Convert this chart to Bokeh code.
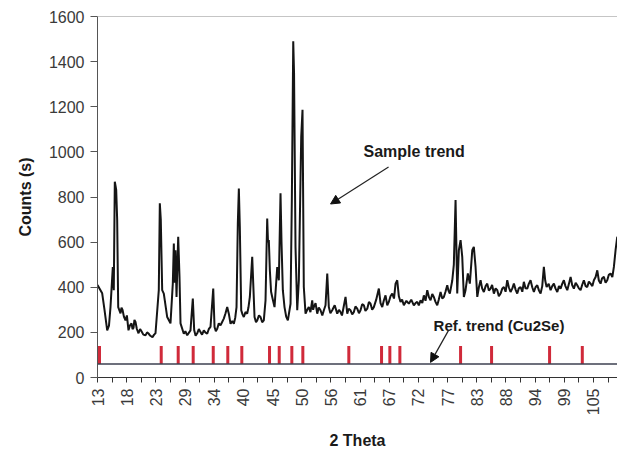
import math
import numpy as np
from bokeh.plotting import figure
from bokeh.models import Range1d, FixedTicker, Arrow, NormalHead, Span
from bokeh.core.properties import value
from bokeh.embed import file_html
from bokeh.resources import INLINE

# Measured XRD pattern of the sample (2-theta in degrees, counts)
two_theta = [
    13.00, 13.87, 14.30, 14.80, 15.13, 15.41, 15.84, 16.02, 16.21, 16.34,
    16.47, 16.65, 16.84, 17.27, 17.45, 17.64, 17.90, 18.19, 18.45, 18.75,
    19.00, 19.31, 19.50, 19.68, 19.85, 20.05, 20.30, 20.61, 20.90, 21.16,
    21.50, 21.91, 22.20, 22.46, 22.80, 23.20, 23.50, 23.76, 24.37, 24.56,
    24.74, 25.00, 25.30, 25.93, 26.54, 26.97, 27.16, 27.29, 27.47, 27.66,
    27.97, 28.21, 28.40, 29.01, 29.30, 29.64, 30.25, 30.68, 30.94, 31.20,
    31.50, 31.80, 32.11, 32.40, 32.72, 33.00, 33.35, 33.65, 33.96, 34.47,
    34.71, 34.95, 35.21, 35.50, 35.82, 36.10, 36.43, 36.75, 37.06, 37.36,
    37.68, 38.00, 38.29, 38.55, 38.79, 39.03, 39.22, 39.40, 39.66, 39.90,
    40.14, 40.45, 40.77, 41.00, 41.26, 41.70, 41.89, 42.13, 42.40, 42.63,
    42.95, 43.24, 43.55, 43.85, 44.17, 44.48, 44.63, 44.78, 44.97, 45.20,
    45.41, 45.84, 46.34, 46.64, 46.95, 47.14, 47.38, 47.69, 48.00, 48.31,
    48.81, 49.05, 49.31, 49.46, 49.73, 50.05, 50.35, 50.79, 51.03, 51.27,
    51.59, 51.90, 52.20, 52.50, 52.83, 53.00, 53.13, 53.45, 53.76, 54.05,
    54.37, 54.70, 54.99, 55.30, 55.62, 55.91, 56.20, 56.54, 57.00, 57.47,
    57.80, 58.08, 58.35, 58.64, 59.01, 59.33, 59.60, 59.94, 60.25, 60.55,
    60.85, 61.18, 61.50, 61.79, 62.10, 62.41, 62.70, 63.04, 63.35, 63.65,
    63.95, 64.26, 64.70, 65.19, 65.50, 65.82, 66.10, 66.43, 66.75, 67.04,
    67.35, 67.68, 68.00, 68.29, 68.60, 68.90, 69.21, 69.50, 69.83, 70.30,
    70.75, 71.20, 71.68, 72.00, 72.31, 72.60, 72.93, 73.25, 73.54, 73.85,
    74.17, 74.50, 74.78, 75.10, 75.39, 75.70, 76.02, 76.30, 76.64, 76.95,
    77.25, 77.55, 77.88, 78.10, 78.36, 78.81, 79.10, 79.42, 79.73, 80.03,
    80.35, 80.66, 80.96, 81.27, 81.70, 82.07, 82.52, 82.81, 83.13, 83.45,
    83.75, 84.06, 84.35, 84.67, 85.00, 85.30, 85.60, 85.91, 86.20, 86.53,
    86.85, 87.16, 87.45, 87.77, 88.10, 88.38, 88.70, 89.01, 89.30, 89.62,
    89.95, 90.24, 90.55, 90.86, 91.15, 91.48, 91.80, 92.09, 92.40, 92.72,
    93.00, 93.33, 93.65, 93.95, 94.25, 94.58, 94.90, 95.19, 95.50, 95.80,
    96.05, 96.31, 96.70, 97.05, 97.35, 97.66, 97.95, 98.29, 98.60, 98.90,
    99.20, 99.51, 99.80, 100.14, 100.45, 100.76, 101.05, 101.37, 101.70, 102.00,
    102.30, 102.61, 102.90, 103.22, 103.55, 103.85, 104.15, 104.46, 104.80, 105.08,
    105.40, 105.71, 106.00, 106.32, 106.60, 106.93, 107.25, 107.56, 107.85, 108.18,
    108.50, 108.79, 109.10, 109.42,
]
counts = [
    410, 373, 300, 209, 230, 312, 490, 387, 868, 850,
    831, 698, 312, 284, 310, 300, 270, 253, 275, 209,
    230, 240, 215, 220, 255, 246, 215, 196, 215, 205,
    190, 187, 200, 195, 185, 179, 190, 196, 387, 772,
    700, 387, 372, 268, 240, 416, 594, 420, 564, 357,
    624, 446, 240, 194, 205, 187, 209, 350, 209, 185,
    196, 215, 201, 190, 209, 200, 194, 215, 224, 394,
    224, 205, 216, 240, 231, 245, 261, 285, 312, 283,
    238, 250, 238, 265, 312, 683, 838, 668, 298, 280,
    268, 290, 283, 310, 357, 535, 416, 268, 245, 253,
    275, 268, 245, 253, 342, 705, 600, 609, 476, 380,
    357, 312, 490, 431, 816, 594, 387, 312, 270, 253,
    327, 787, 1490, 1350, 579, 298, 431, 1068, 1187, 401,
    283, 300, 312, 290, 342, 300, 312, 330, 283, 310,
    298, 275, 298, 320, 461, 312, 285, 298, 320, 283,
    300, 290, 275, 310, 357, 283, 305, 298, 280, 290,
    315, 305, 285, 298, 325, 320, 295, 305, 335, 327,
    300, 312, 345, 394, 330, 312, 340, 364, 320, 335,
    360, 372, 350, 416, 431, 360, 335, 345, 320, 340,
    327, 345, 320, 330, 335, 320, 342, 330, 364, 340,
    387, 355, 342, 370, 357, 335, 320, 345, 379, 350,
    357, 380, 409, 385, 372, 430, 500, 787, 372, 564,
    609, 535, 357, 387, 461, 416, 564, 579, 490, 357,
    400, 431, 395, 379, 405, 416, 385, 394, 410, 372,
    395, 387, 360, 372, 395, 401, 380, 431, 400, 379,
    395, 416, 390, 372, 395, 401, 380, 424, 395, 394,
    415, 431, 400, 379, 400, 409, 385, 372, 405, 490,
    430, 401, 415, 387, 405, 416, 395, 379, 405, 394,
    415, 431, 405, 387, 415, 446, 410, 394, 420, 409,
    395, 387, 410, 431, 405, 401, 425, 416, 405, 431,
    445, 475, 430, 416, 440, 446, 420, 431, 455, 461,
    445, 490, 564, 624,
]

# Reference pattern (Cu2Se) stick positions
ref_two_theta = [13.37, 24.82, 27.97, 30.75, 34.47, 37.17, 39.77, 44.91, 46.71,
                 49.05, 51.09, 59.62, 65.69, 67.23, 69.09, 80.35, 86.10, 96.86, 102.93]
ref_top = [140] * len(ref_two_theta)
ref_baseline = 60

# Axis ticks
x_tick_labels = [13, 18, 23, 29, 34, 40, 45, 50, 56, 61, 67, 72, 77, 83, 88, 94, 99, 105]
y_ticks = [0, 200, 400, 600, 800, 1000, 1200, 1400, 1600]

x_ticks = [round(v, 4) for v in np.linspace(x_tick_labels[0], x_tick_labels[-1], len(x_tick_labels))]
step = x_ticks[1] - x_ticks[0]
x_minor = [round(v + step / 2, 4) for v in x_ticks]

FONT = "Liberation Sans"

p = figure(width=617, height=454,
           x_range=Range1d(13, 109.46), y_range=Range1d(0, 1600),
           output_backend="svg", toolbar_location=None,
           min_border_left=97, min_border_right=0,
           min_border_top=16, min_border_bottom=77)
p.grid.visible = False
p.outline_line_color = None
p.background_fill_color = "white"
p.border_fill_color = "white"

# top border of the plot area
p.add_layout(Span(location=y_ticks[-1], dimension="width",
                  line_color="#8c8c8c", line_width=1.2))

# reference baseline and sticks
p.add_layout(Span(location=ref_baseline, dimension="width",
                  line_color="#3c4050", line_width=1.6))
p.segment(x0=ref_two_theta, y0=ref_baseline, x1=ref_two_theta, y1=ref_top,
          line_color="#d02a3a", line_width=3)

# sample pattern
p.line(two_theta, counts, line_color="#151515", line_width=2)

# x axis
xa = p.xaxis[0]
xa.ticker = FixedTicker(ticks=x_ticks, minor_ticks=x_minor)
xa.major_label_overrides = {t: str(l) for t, l in zip(x_ticks, x_tick_labels)}
xa.major_label_orientation = math.pi / 2
xa.axis_label = "2 Theta"
xa.axis_label_text_font = FONT
xa.axis_label_text_font_style = "bold"
xa.axis_label_text_font_size = "16px"
xa.axis_label_text_color = "#1a1a1a"
xa.axis_label_standoff = 14
xa.major_label_text_font = FONT
xa.major_label_text_font_size = "16px"
xa.major_label_text_color = "#3a3a3a"
xa.major_label_standoff = 6
xa.axis_line_color = "#333333"
xa.major_tick_line_color = "#333333"
xa.minor_tick_line_color = "#333333"
xa.major_tick_out = 5
xa.major_tick_in = 0
xa.minor_tick_out = 5
xa.minor_tick_in = 0

# y axis
ya = p.yaxis[0]
ya.ticker = FixedTicker(ticks=y_ticks)
ya.axis_label = "Counts (s)"
ya.axis_label_text_font = FONT
ya.axis_label_text_font_style = "bold"
ya.axis_label_text_font_size = "16px"
ya.axis_label_text_color = "#1a1a1a"
ya.axis_label_standoff = 12
ya.major_label_text_font = FONT
ya.major_label_text_font_size = "16px"
ya.major_label_text_color = "#3a3a3a"
ya.major_label_standoff = 6
ya.axis_line_color = "#555555"
ya.major_tick_line_color = "#555555"
ya.minor_tick_line_color = None
ya.major_tick_out = 7
ya.major_tick_in = 0

# annotations
p.text(x=[62.35], y=[1000], text=["Sample trend"], text_font=value(FONT),
       text_font_style="bold", text_font_size="16px", text_color="#1a1a1a",
       text_align="left", text_baseline="middle")
p.add_layout(Arrow(end=NormalHead(size=9, fill_color="#111111", line_color="#111111"),
                   x_start=66.99, y_start=933, x_end=56.23, y_end=769,
                   line_color="#222222", line_width=1.2))

p.text(x=[75.34], y=[231], text=["Ref. trend (Cu2Se)"], text_font=value(FONT),
       text_font_style="bold", text_font_size="15px", text_color="#1a1a1a",
       text_align="left", text_baseline="middle")
p.add_layout(Arrow(end=NormalHead(size=9, fill_color="#111111", line_color="#111111"),
                   x_start=78.12, y_start=209, x_end=74.78, y_end=67,
                   line_color="#222222", line_width=1.2))

open("out.html", "w").write(file_html(p, INLINE))
